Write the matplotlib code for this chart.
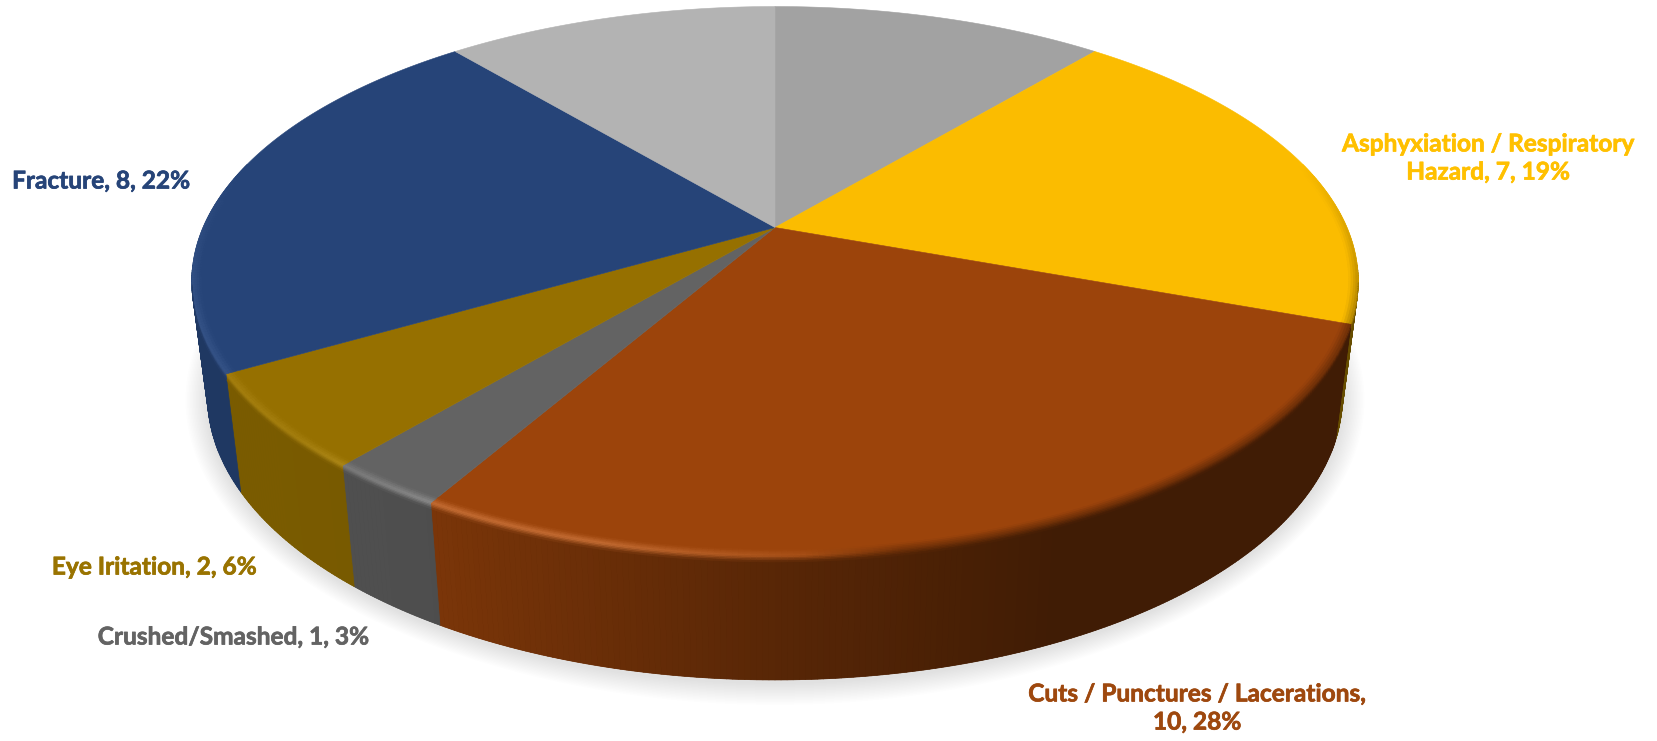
#!/usr/bin/env python3
import numpy as np
import matplotlib
matplotlib.use('Agg')
import matplotlib.pyplot as plt
import matplotlib.patheffects as pe
from matplotlib.collections import PolyCollection
from matplotlib.patches import Polygon

values = [4, 7, 10, 1, 2, 8, 4]
colors = ['#A2A2A2', '#FBBC00', '#9C440B', '#636363', '#967000', '#264478', '#B3B3B3']

labels = ['Asphyxiation / Respiratory\nHazard, 7, 19%',
          'Cuts / Punctures / Lacerations,\n10, 28%',
          'Crushed/Smashed, 1, 3%',
          'Eye Iritation, 2, 6%',
          'Fracture, 8, 22%']
label_colors = ['#FFC000', '#9E480E', '#636363', '#997300', '#264478']
label_pos = [(1488, 158), (1197, 708), (233, 637), (154, 567), (101, 181)]

# perspective of the pie disc, in pixels
cx, cy = 775, 227.5
rx, ry = 572.0, 264.2
persp = 0.1956


def project(theta, r=1.0):
    # theta runs clockwise from 12 o'clock
    X = r * np.sin(theta)
    Y = r * np.cos(theta)
    s = 1 / (1 + persp * Y)
    return cx + rx * X * s, cy - ry * Y * s


def base_point(theta):
    # matching point on the lower rim of the disc
    x, y = project(theta)
    s = 1 / (1 + persp * np.cos(theta))
    return cx + (x - cx) * 0.973, y + 124 - 44 * (1.243 - s)


def side_shade(x):
    return np.interp(x, [200, 350, 437, 800, 900, 1060], [.82, .80, .78, .55, .50, .41])


def rim_lift(x):
    return np.interp(x, [190, 300, 430, 600, 800, 900], [.06, .06, .16, .16, .05, 0])


fig = plt.figure(figsize=(16.58, 7.41), dpi=100)
ax = fig.add_axes([0, 0, 1, 1])
ax.set_xlim(0, 1658)
ax.set_ylim(741, 0)
ax.axis('off')

# soft shadow, stacked outlines growing outwards
th = np.linspace(0, 2 * np.pi, 361)
bx, by = base_point(th)
bcx, bcy = bx.mean(), by.mean()
for d in np.arange(22, 0, -1.5):
    nx, ny = bx - bcx, by - bcy
    n = np.hypot(nx, ny)
    ax.add_patch(Polygon(np.c_[bx + nx / n * d, by + ny / n * d + 3], closed=True,
                         facecolor='black', edgecolor='none', alpha=0.0095, zorder=1))

frac = np.cumsum([0] + values) / sum(values) * 2 * np.pi
side_polys, side_cols = [], []
bevel_polys, bevel_cols = [], []
bands = np.linspace(-1, 1, 9)

for i, col in enumerate(colors):
    base = np.array(matplotlib.colors.to_rgb(col))
    n_seg = max(int(np.degrees(frac[i + 1] - frac[i]) * 2), 2)
    edge = np.linspace(frac[i], frac[i + 1], n_seg + 1)

    # top face of the slice
    px, py = project(edge)
    ax.add_patch(Polygon(np.r_[[[cx, cy]], np.c_[px, py]], closed=True, facecolor=col,
                         edgecolor=col, linewidth=0.4, zorder=4))

    # solid backing under the wall strips so their seams stay hidden
    facing = edge[np.cos(edge) < -persp + 0.06]
    if len(facing) > 1:
        tx, ty = project(facing)
        lx, ly = base_point(facing)
        backing = np.r_[np.c_[tx, ty], np.c_[lx, ly][::-1]]
        ax.add_patch(Polygon(backing, closed=True, facecolor=base * side_shade(tx.mean()),
                             edgecolor='none', zorder=2))

    for a, b in zip(edge[:-1], edge[1:]):
        mid = (a + b) / 2
        mx, _ = project(mid)
        Y = np.cos(mid)
        side = base * side_shade(mx)

        # outer wall, only the part that faces the viewer
        if Y < -persp + 0.06:
            p1, p2 = project(a), project(b)
            side_polys.append([p1, p2, base_point(b), base_point(a)])
            side_cols.append(side)

        # rounded edge between top face and wall
        lift = rim_lift(mx)
        rim = np.clip(base + lift, 0, 1)
        if lift < 0.05:
            rim = rim + (side - rim) * (1 - lift / 0.05) * 0.5
        fade = np.interp(Y, [-0.3, 0.25], [1, 0])
        for t0, t1 in zip(bands[:-1], bands[1:]):
            tm = (t0 + t1) / 2
            if tm < 0:
                if fade == 0:
                    continue
                c = base + (rim - base) * (1 + tm) * fade
                bevel_polys.append([project(a, 1 + 0.016 * t0), project(b, 1 + 0.016 * t0),
                                    project(b, 1 + 0.016 * t1), project(a, 1 + 0.016 * t1)])
            else:
                if Y > -persp:
                    continue
                c = rim + (side - rim) * tm
                q = []
                for ang, t in ((a, t0), (b, t0), (b, t1), (a, t1)):
                    top = np.array(project(ang))
                    low = np.array(base_point(ang))
                    q.append(top + (low - top) * t * 6 / np.hypot(*(low - top)))
                bevel_polys.append(q)
            bevel_cols.append(np.clip(c, 0, 1))

ax.add_collection(PolyCollection(side_polys, facecolors=side_cols, edgecolors='face',
                                 linewidths=0.5, zorder=3))
ax.add_collection(PolyCollection(bevel_polys, facecolors=bevel_cols, edgecolors='face',
                                 linewidths=0.4, zorder=5))

for text, c, (lx, ly) in zip(labels, label_colors, label_pos):
    ax.text(lx, ly, text, color=c, fontsize=17.6, fontweight='bold', family='Lato',
            ha='center', va='center', linespacing=1.27, zorder=6,
            path_effects=[pe.withStroke(linewidth=0.5, foreground=c)])

fig.savefig('out.png', dpi=100)
